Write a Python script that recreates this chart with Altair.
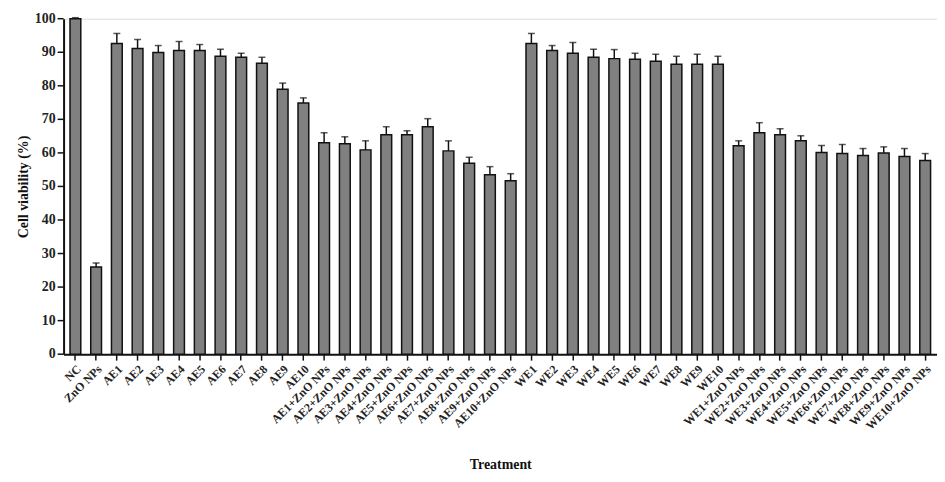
import altair as alt
import pandas as pd

groups = ["NC", "ZnO NPs"]
ae = [f"AE{i}" for i in range(1, 11)]
ae_zno = [f"AE{i}+ZnO NPs" for i in range(1, 11)]
we = [f"WE{i}" for i in range(1, 11)]
we_zno = [f"WE{i}+ZnO NPs" for i in range(1, 11)]
categories = groups + ae + ae_zno + we + we_zno

viability = [100.0, 26.0,
             92.6, 91.1, 89.9, 90.5, 90.5, 88.8, 88.5, 86.7, 79.0, 74.9,
             63.0, 62.7, 60.9, 65.4, 65.4, 67.8, 60.6, 56.9, 53.5, 51.7,
             92.6, 90.5, 89.7, 88.5, 88.1, 87.9, 87.3, 86.4, 86.4, 86.4,
             62.1, 66.0, 65.4, 63.6, 60.1, 59.8, 59.2, 60.0, 58.9, 57.7]
error = [0.3, 1.2,
         3.0, 2.7, 2.1, 2.7, 1.8, 2.1, 1.2, 1.8, 1.8, 1.5,
         3.0, 2.1, 2.7, 2.4, 1.2, 2.4, 3.0, 1.8, 2.4, 2.1,
         3.0, 1.5, 3.2, 2.4, 2.7, 1.8, 2.1, 2.4, 3.0, 2.4,
         1.5, 3.0, 1.8, 1.5, 2.1, 2.7, 2.1, 1.8, 2.4, 2.1]
y_ticks = [0, 10, 20, 30, 40, 50, 60, 70, 80, 90, 100]

df = pd.DataFrame({"Treatment": categories, "v": viability, "e": error})
df["top"] = df["v"] + df["e"]
ticks_df = pd.DataFrame({"t": y_ticks, "label": [str(t) for t in y_ticks]})

FONT = "Liberation Serif"

x = alt.X("Treatment:N", sort=categories, title="Treatment",
          scale=alt.Scale(paddingInner=0.48, paddingOuter=0.31),
          axis=alt.Axis(labelAngle=315, labelFont=FONT, labelFontSize=12,
                        labelFontWeight="bold", labelColor="#222",
                        titleFont=FONT, titleFontSize=14, titleFontWeight="bold",
                        titleColor="#111", titlePadding=26,
                        domainColor="#111", domainWidth=2, tickColor="#111",
                        tickWidth=1.5, tickSize=6, labelPadding=3))
yaxis = alt.Axis(labels=False, ticks=False, grid=False,
                 titleFont=FONT, titleFontSize=14,
                 titleFontWeight="bold", titleColor="#111", titlePadding=33,
                 domainColor="#111", domainWidth=2)
yscale = alt.Scale(domain=[0, 100], nice=False)

bars = alt.Chart(df).mark_bar(fill="#808080", stroke="#111", strokeWidth=1.5).encode(
    x=x, y=alt.Y("v:Q", title="Cell viability (%)", scale=yscale, axis=yaxis))
err_line = alt.Chart(df).mark_rule(color="#111", strokeWidth=1.5).encode(
    x=alt.X("Treatment:N", sort=categories, axis=None),
    y=alt.Y("v:Q", scale=yscale, axis=None), y2="top:Q")
err_cap = alt.Chart(df).mark_tick(color="#111", thickness=1.5, size=7, orient="horizontal").encode(
    x=alt.X("Treatment:N", sort=categories, axis=None),
    y=alt.Y("top:Q", scale=yscale, axis=None))
ytick_marks = alt.Chart(ticks_df).mark_rule(color="#111", strokeWidth=1.5).encode(
    x=alt.value(-6), x2=alt.value(0),
    y=alt.Y("t:Q", scale=yscale, axis=None))
ytick_labels = alt.Chart(ticks_df).mark_text(
    align="right", baseline="middle", font=FONT, fontSize=14, fontWeight="bold",
    color="#222").encode(
    x=alt.value(-8), y=alt.Y("t:Q", scale=yscale, axis=None), text="label:N")

chart = alt.layer(bars, err_line, err_cap, ytick_marks, ytick_labels).resolve_axis(
    x="independent", y="independent"
).properties(
    width=880, height=338,
    autosize=alt.AutoSizeParams(type="none"),
    padding={"left": 56, "top": 9, "right": 0, "bottom": 126},
).configure_view(stroke=None).configure(background="white")

chart.save("out.html", embed_options={"renderer": "svg", "actions": False})
